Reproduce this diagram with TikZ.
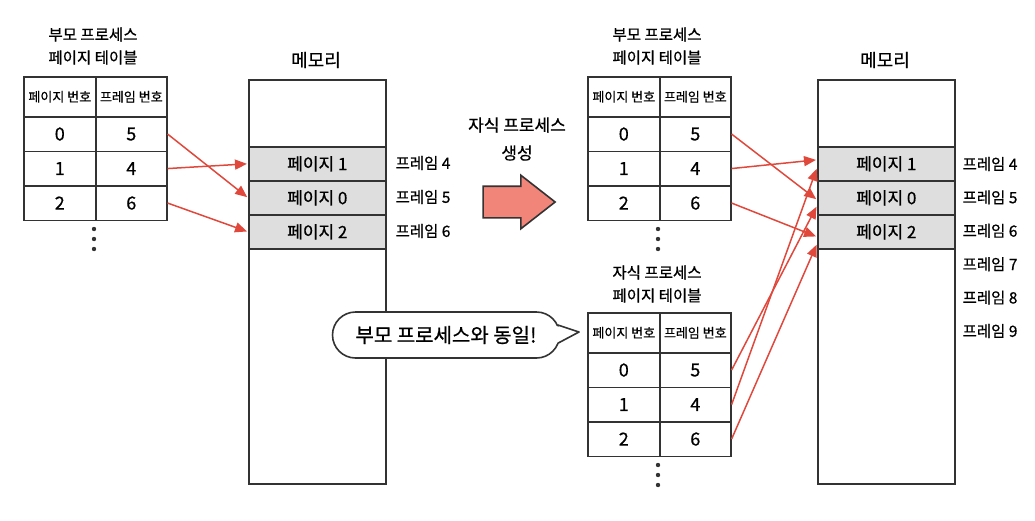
\documentclass[tikz,border=0pt]{standalone}
\usepackage{fontspec}
\setmainfont{Noto Sans CJK KR}[FakeBold=0.7]
\usepackage{tikz}
\usetikzlibrary{shapes.arrows}
\usetikzlibrary{arrows.meta}
\definecolor{linegray}{HTML}{333333}
\definecolor{ptrred}{HTML}{E0483C}
\definecolor{pagegray}{HTML}{DEDEDE}
\definecolor{salmon}{HTML}{F2857A}

\begin{document}
\begin{tikzpicture}[x=1pt,y=-1pt,
   cell/.style={draw=linegray, line width=1.6pt, anchor=north west, inner sep=0pt, minimum width=72pt, minimum height=34.5pt, font=\fontsize{18}{20}\selectfont},
   hdr/.style={cell, minimum height=40pt, font=\fontsize{13}{15}\selectfont},
   memory/.style={draw=linegray, line width=1.6pt, anchor=north west, minimum width=137pt, minimum height=404pt},
   page/.style={memory, fill=pagegray, minimum height=34pt, inner sep=0pt, font=\fontsize{17}{19}\selectfont},
   title/.style={align=center, font=\fontsize{15.5}{23}\selectfont},
   frame/.style={font=\fontsize{15.5}{17}\selectfont},
   ptr/.style={draw=ptrred, line width=1.5pt, -{Triangle[length=12pt,width=10pt]}, shorten >=1pt}
]
   \useasboundingbox (0,0) rectangle (1035,520);

   \foreach \m/\x in {M1/248,M2/817}{
      \node[memory] (\m) at (\x,79) {};
      \node[font=\fontsize{18}{20}\selectfont] (\m-title) at (\x+68,60) {메모리};
      \foreach \p [count=\i from 0] in {1,0,2}
         \node[page] (\m-p\p) at (\x,146+\i*34) {페이지 \p};
   }
   \foreach \f [count=\i from 0] in {4,5,6}
      \node[frame] (M1-f\f) at (423,163+\i*34) {프레임 \f};
   \foreach \f [count=\i from 0] in {4,5,6,7,8,9}
      \node[frame] (M2-f\f) at (990,164+\i*33.4) {프레임 \f};

   \foreach \t/\x/\y in {L/23/76,P/587/76,C/587/312}{
      \node[hdr] (\t-h1) at (\x,\y) {페이지 번호};
      \node[hdr, minimum width=71pt] (\t-h2) at (\x+72,\y) {프레임 번호};
      \foreach \r/\f [count=\i from 0] in {0/5,1/4,2/6}{
         \node[cell] (\t-p\r) at (\x,\y+40+\i*34.5) {\r};
         \node[cell, minimum width=71pt] (\t-f\r) at (\x+72,\y+40+\i*34.5) {\f};
      }
      \foreach \d in {0,1,2}
         \fill[linegray] (\x+71,\y+153+\d*10) circle (2.2pt);
   }
   \node[title] (L-title) at (93,46) {부모 프로세스\\페이지 테이블};
   \node[title] (P-title) at (657,46) {부모 프로세스\\페이지 테이블};
   \node[title] (C-title) at (657,284) {자식 프로세스\\페이지 테이블};

   \node[single arrow, draw=linegray, fill=salmon, line width=1.6pt, inner xsep=0pt, inner ysep=15pt,
      minimum height=72pt, minimum width=52pt, single arrow head extend=11pt,
      single arrow tip angle=76] (grow) at (509,202) {};
   \node[align=center, font=\fontsize{17}{28}\selectfont] (grow-text) at (517,139) {자식 프로세스\\생성};

   \node[draw=linegray, line width=1.6pt, fill=white, rounded corners=23pt,
      minimum width=227pt, minimum height=46pt, font=\fontsize{20}{22}\selectfont] (bubble) at (446,335) {부모 프로세스와 동일!};
   \fill[white] ([xshift=-4pt,yshift=9pt]bubble.east) -- (579,332) -- ([xshift=-4pt,yshift=-8pt]bubble.east) -- cycle;
   \draw[linegray, line width=1.6pt, line join=round] ([xshift=-2.5pt,yshift=10pt]bubble.east) -- (579,332) -- ([xshift=-2pt,yshift=-8pt]bubble.east);

   \foreach \r in {0,1,2}
      \draw[ptr] (L-f\r.east) -- (M1-p\r.west);
   \foreach \r/\s in {0/-2,1/4,2/-5}
      \draw[ptr] (P-f\r.east) -- ([yshift=\s pt]M2-p\r.west);
   \foreach \r/\s in {0/-8,1/-4,2/-12}
      \draw[ptr] (C-f\r.east) -- ([yshift=\s pt]M2-p\r.west);
\end{tikzpicture}
\end{document}
